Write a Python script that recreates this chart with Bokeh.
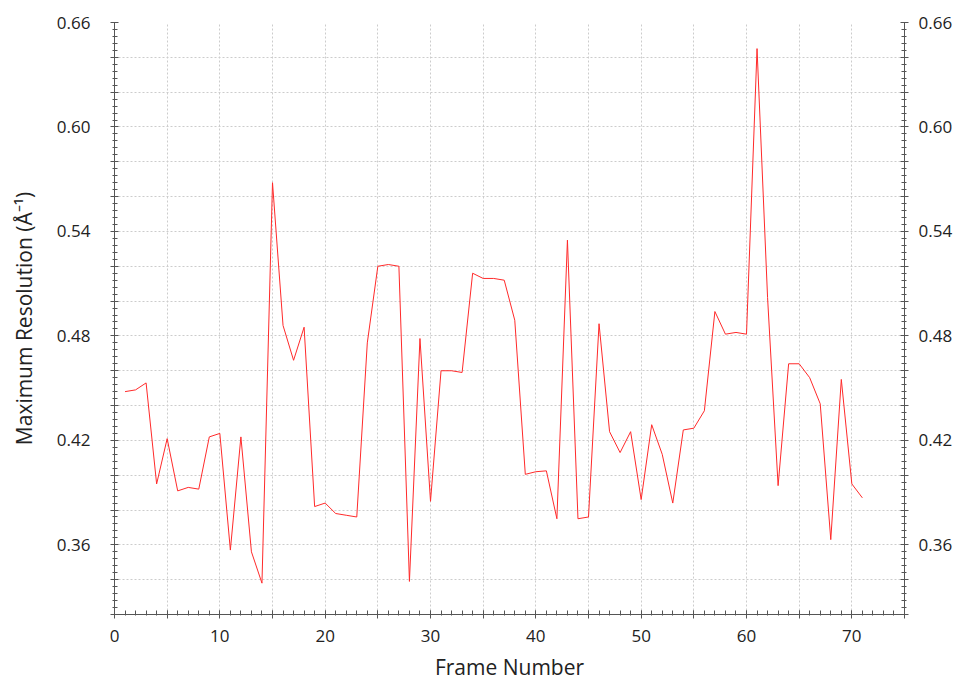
from bokeh.plotting import figure
from bokeh.models import (FixedTicker, LinearAxis, Range1d, CustomJSTickFormatter, ColumnDataSource)
from bokeh.embed import file_html
from bokeh.resources import INLINE

frames = list(range(1, 72))
resolution = [
    0.448, 0.449, 0.453, 0.395, 0.421, 0.391, 0.393, 0.392, 0.422, 0.424,
    0.357, 0.422, 0.356, 0.338, 0.568, 0.486, 0.466, 0.485, 0.382, 0.384,
    0.378, 0.377, 0.376, 0.476, 0.520, 0.521, 0.520, 0.339, 0.4785, 0.385,
    0.460, 0.460, 0.459, 0.516, 0.513, 0.513, 0.512, 0.489, 0.4005, 0.402,
    0.4025, 0.375, 0.535, 0.375, 0.376, 0.487, 0.425, 0.413, 0.425, 0.386,
    0.429, 0.412, 0.384, 0.426, 0.427, 0.437, 0.494, 0.481, 0.482, 0.481,
    0.645, 0.502, 0.394, 0.464, 0.464, 0.456, 0.441, 0.363, 0.455, 0.395,
    0.387,
]

x_major = [0, 5, 10, 15, 20, 25, 30, 35, 40, 45, 50, 55, 60, 65, 70, 75]
x_minor = list(range(0, 76))
y_major = [0.32, 0.34, 0.36, 0.38, 0.40, 0.42, 0.44, 0.46, 0.48, 0.50,
           0.52, 0.54, 0.56, 0.58, 0.60, 0.62, 0.64, 0.66]
y_minor = [round(0.32 + 0.004 * i, 3) for i in range(0, 86)]

FONT = "Open Sans"
src = ColumnDataSource(dict(x=frames, y=resolution))

p = figure(width=956, height=683, output_backend="svg", toolbar_location=None,
           x_range=Range1d(0, 75), y_range=Range1d(0.32, 0.66),
           x_axis_label="Frame Number", y_axis_label="Maximum Resolution (Å⁻¹)",
           min_border_left=114, min_border_right=52, min_border_top=22,
           min_border_bottom=69)
p.outline_line_color = None
p.background_fill_color = "white"
p.border_fill_color = "white"

p.line("x", "y", source=src, line_color="#ff2a2a", line_width=1)

xt = FixedTicker(ticks=x_major, minor_ticks=x_minor)
yt = FixedTicker(ticks=y_major, minor_ticks=y_minor)

xfmt = CustomJSTickFormatter(code="return (Math.round(tick) % 10 == 0) ? tick.toFixed(0) : '';")
yfmt = CustomJSTickFormatter(code="const k = Math.round(tick*100); return (k % 6 == 0) ? tick.toFixed(2) : '';")

ax = p.xaxis[0]
ax.ticker = xt
ax.formatter = xfmt
ay = p.yaxis[0]
ay.ticker = yt
ay.formatter = yfmt

ry = LinearAxis(ticker=yt, formatter=yfmt)
p.add_layout(ry, "right")

for a in [ax, ay, ry]:
    a.axis_line_color = "#555555"
    a.major_tick_line_color = "#555555"
    a.minor_tick_line_color = "#555555"
    a.major_label_text_font = FONT
    a.major_label_text_font_size = "17px"
    a.major_label_text_color = "#222222"
    a.axis_label_text_font = FONT
    a.axis_label_text_font_size = "21px"
    a.axis_label_text_font_style = "normal"
    a.axis_label_text_color = "#222222"
    a.major_tick_in = 4
    a.major_tick_out = 4
    a.minor_tick_in = 3
    a.minor_tick_out = 2

ax.minor_tick_in = 4
ax.minor_tick_out = 1
ax.major_label_standoff = 11
ax.axis_label_standoff = 8
ay.major_label_standoff = 20
ay.axis_label_standoff = 16
ry.major_label_standoff = 10

p.xgrid.ticker = xt
p.ygrid.ticker = yt
for g in [p.xgrid[0], p.ygrid[0]]:
    g.grid_line_color = "#cccccc"
    g.grid_line_dash = "2 2"
    g.grid_line_width = 1

open("out.html", "w").write(file_html(p, INLINE))
